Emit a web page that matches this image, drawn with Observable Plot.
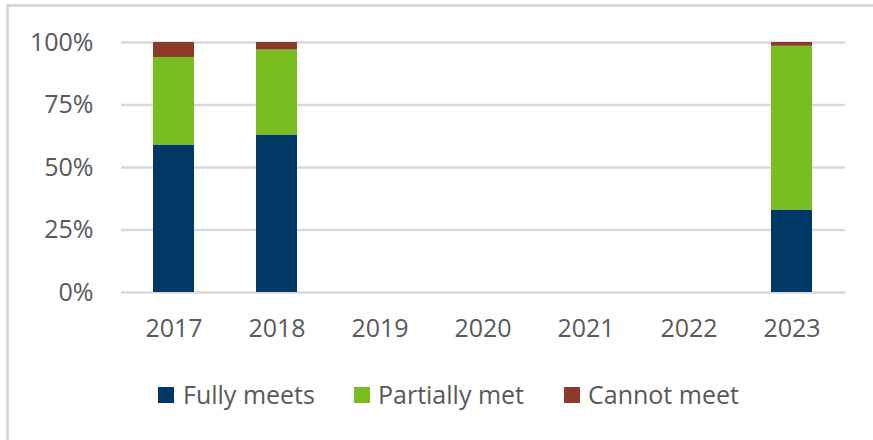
<!DOCTYPE html>
<html>
<head>
<meta charset="utf-8">
<script src="https://cdn.jsdelivr.net/npm/d3@7"></script>
<script src="https://cdn.jsdelivr.net/npm/@observablehq/plot@0.6"></script>
<style>
  html, body { margin: 0; padding: 0; background: #fff; }
  body { width: 873px; height: 440px; overflow: hidden; position: relative; font-family: "Open Sans", sans-serif; }
  #frame { position: absolute; left: 6px; top: 4px; width: 1000px; height: 600px;
           border-left: 3px solid #d9d9d9; border-top: 3px solid #d9d9d9; }
  #chart { position: absolute; left: 0; top: 0; }
  .leg-sq { position: absolute; width: 16px; height: 16px; top: 387px; }
  .leg-tx { position: absolute; top: 382px; font-size: 25px; line-height: 25px; color: #595959; white-space: nowrap; }
</style>
</head>
<body>
<div id="frame"></div>
<div id="chart"></div>
<div id="legend"></div>
<script>
const years = ["2017", "2018", "2019", "2020", "2021", "2022", "2023"];
const seriesNames = ["Fully meets", "Partially met", "Cannot meet"];
const seriesColors = ["#003865", "#78be20", "#8b3a2a"];
const fullyMeets   = [0.59, 0.63, null, null, null, null, 0.33];
const partiallyMet = [0.35, 0.34, null, null, null, null, 0.655];
const cannotMeet   = [0.06, 0.03, null, null, null, null, 0.015];
const yTicks = [0, 0.25, 0.5, 0.75, 1];

const seriesValues = [fullyMeets, partiallyMet, cannotMeet];
const data = [];
seriesNames.forEach((s, si) => {
  years.forEach((y, yi) => {
    const v = seriesValues[si][yi];
    if (v != null) data.push({year: y, series: s, value: v});
  });
});

const plot = Plot.plot({
  width: 873,
  height: 360,
  marginLeft: 121,
  marginRight: 28,
  marginTop: 42,
  marginBottom: 68,
  style: {fontFamily: "'Open Sans', sans-serif", fontSize: "25px", color: "#595959", background: "transparent"},
  x: {domain: years, paddingInner: 0.6, paddingOuter: 0.3, label: null},
  y: {domain: [0, 1], label: null},
  color: {domain: seriesNames, range: seriesColors},
  marks: [
    Plot.ruleY(yTicks, {stroke: "#d9d9d9", strokeWidth: 2.5}),
    Plot.barY(data, {x: "year", y: "value", fill: "series", order: seriesNames}),
    Plot.axisY({ticks: yTicks, tickFormat: d3.format(".0%"), tickSize: 0, tickPadding: 28, fill: "#595959", fontSize: 25, label: null}),
    Plot.axisX({tickSize: 0, tickPadding: 27, fill: "#595959", fontSize: 25, label: null})
  ]
});
document.getElementById("chart").appendChild(plot);

const legend = document.getElementById("legend");
const sqX = [158, 354, 564];
const txX = [183, 378, 588];
seriesNames.forEach((s, i) => {
  const sq = document.createElement("div");
  sq.className = "leg-sq";
  sq.style.left = sqX[i] + "px";
  sq.style.background = seriesColors[i];
  legend.appendChild(sq);
  const tx = document.createElement("div");
  tx.className = "leg-tx";
  tx.style.left = txX[i] + "px";
  tx.textContent = s;
  legend.appendChild(tx);
});
</script>
</body>
</html>
